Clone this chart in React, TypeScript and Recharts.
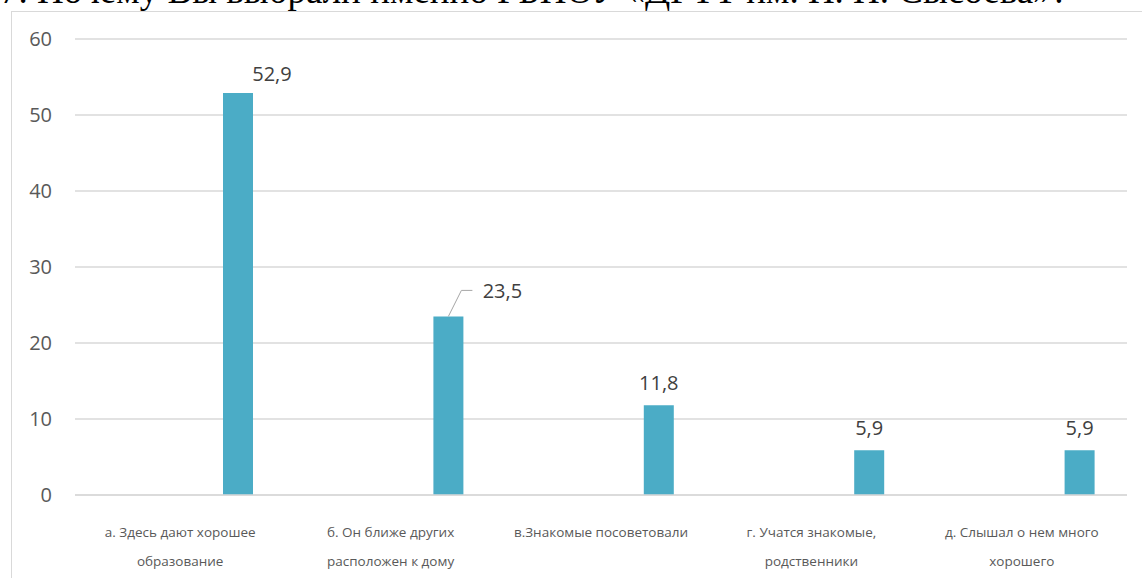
import React from "react";
import { BarChart, Bar, XAxis, YAxis, CartesianGrid, LabelList } from "recharts";

const categories = [
  "а. Здесь дают хорошее\nобразование",
  "б. Он ближе других\nрасположен к дому",
  "в.Знакомые посоветовали",
  "г. Учатся знакомые,\nродственники",
  "д. Слышал о нем много\nхорошего",
];
const percents = [52.9, 23.5, 11.8, 5.9, 5.9];
const yTicks = [0, 10, 20, 30, 40, 50, 60];

const title = "7. Почему Вы выбрали именно ГБПОУ «ДГТТ им. Н. Н. Сысоева»?";

// labels that were dragged in the original: [dx, dy] from bar top centre
const labelShift: [number, number][] = [
  [34, -19],
  [54, -26],
  [0, -23],
  [0, -23],
  [0, -23],
];

const data = categories.map((name, i) => ({
  name,
  pad1: 0,
  pad2: 0,
  value: percents[i],
}));

const FONT = "'Open Sans', sans-serif";

const CategoryTick = (props: any) => {
  const { x, y, payload } = props;
  const lines = String(payload.value).split("\n");
  return (
    <text x={x} y={y} textAnchor="middle" fill="#595959" fontSize={13.5} fontFamily={FONT}>
      {lines.map((l, i) => (
        <tspan key={i} x={x} dy={i === 0 ? 34 : 29}>
          {l}
        </tspan>
      ))}
    </text>
  );
};

const ValueLabel = (props: any) => {
  const { x, y, width, value, index } = props;
  const cx = x + width / 2;
  const [dx, dy] = labelShift[index] || [0, -23];
  const txt = String(value).replace(".", ",");
  return (
    <g>
      {index === 1 && (
        <polyline
          points={`${cx},${y} ${cx + 13},${y + dy} ${cx + 24},${y + dy}`}
          fill="none"
          stroke="#a6a6a6"
          strokeWidth={1}
        />
      )}
      <text
        x={cx + dx}
        y={y + dy}
        textAnchor="middle"
        dominantBaseline="central"
        fill="#404040"
        fontSize={20}
        fontFamily={FONT}
      >
        {txt}
      </text>
    </g>
  );
};

export default function App() {
  return (
    <div
      style={{
        position: "absolute",
        left: 0,
        top: 0,
        width: 1142,
        height: 578,
        overflow: "hidden",
        background: "#fff",
      }}
    >
      {/* question heading, only its lower edge is visible above the chart frame */}
      <div
        style={{
          position: "absolute",
          left: 0,
          top: -28,
          fontFamily: "'Liberation Serif', serif",
          fontSize: 37,
          lineHeight: 1,
          whiteSpace: "nowrap",
          color: "#000",
        }}
      >
        {title}
      </div>
      <div
        style={{
          position: "absolute",
          left: 11,
          top: 11,
          width: 1200,
          height: 600,
          borderLeft: "1px solid #d9d9d9",
          borderTop: "1px solid #d9d9d9",
          background: "#fff",
        }}
      />
      <div style={{ position: "absolute", left: 0, top: 0 }}>
        <BarChart
          width={1142}
          height={578}
          data={data}
          margin={{ top: 39, right: 15, left: 0, bottom: 0 }}
          barSize={30}
          barGap={28}
        >
          <CartesianGrid vertical={false} stroke="#d9d9d9" strokeWidth={1.5} />
          <XAxis
            dataKey="name"
            tick={<CategoryTick />}
            tickLine={false}
            axisLine={{ stroke: "#d9d9d9", strokeWidth: 1.5 }}
            interval={0}
            height={83}
          />
          <YAxis
            width={75}
            domain={[0, 60]}
            ticks={yTicks}
            tickLine={false}
            axisLine={false}
            tickSize={0}
            tickMargin={23}
            tick={{ fill: "#595959", fontSize: 20, fontFamily: FONT }}
          />
          <Bar dataKey="pad1" fill="none" isAnimationActive={false} />
          <Bar dataKey="pad2" fill="none" isAnimationActive={false} />
          <Bar dataKey="value" fill="#4bacc6" isAnimationActive={false}>
            <LabelList dataKey="value" content={<ValueLabel />} />
          </Bar>
        </BarChart>
      </div>
    </div>
  );
}
